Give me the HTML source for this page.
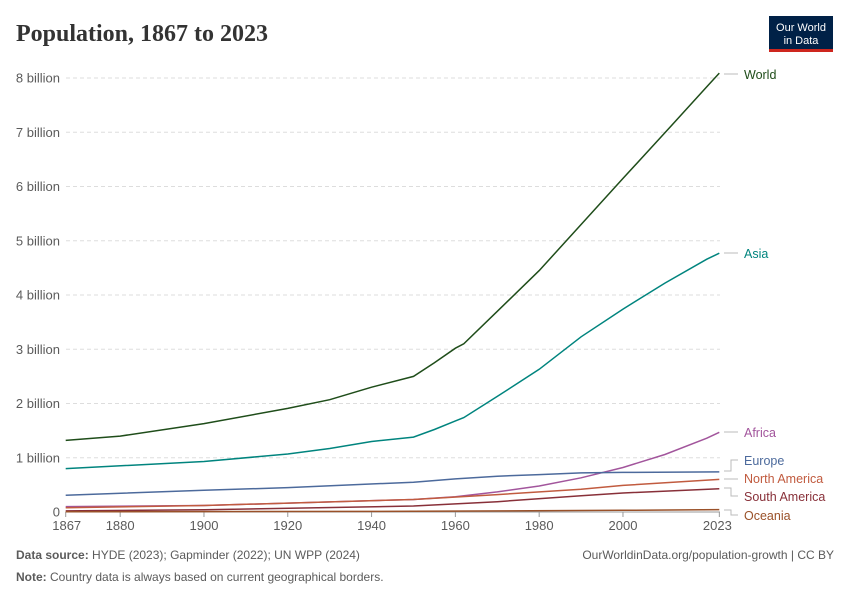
<!DOCTYPE html>
<html><head><meta charset="utf-8"><style>
body{margin:0;background:#fff;width:850px;height:600px;overflow:hidden}
svg text{font-family:"Liberation Sans",sans-serif}
</style></head><body>
<svg id="s" width="850" height="600" xmlns="http://www.w3.org/2000/svg">
<text x="16" y="41" font-size="24" font-weight="bold" fill="#333" style="font-family:'Liberation Serif',serif">Population, 1867 to 2023</text>
<rect x="769" y="16" width="64" height="33" fill="#002147"/>
<rect x="769" y="49" width="64" height="3" fill="#ce261e"/>
<text x="801" y="31" font-size="11" fill="#fff" text-anchor="middle">Our World</text>
<text x="801" y="44" font-size="11" fill="#fff" text-anchor="middle">in Data</text>
<g id="grid"></g>
<g id="lines" fill="none" stroke-width="1.5"></g>
<g font-size="12.5">
<text x="744" y="79" fill="#1f4d1a">World</text>
<text x="744" y="258" fill="#00847e">Asia</text>
<text x="744" y="437" fill="#a2559c">Africa</text>
<text x="744" y="465" fill="#4c6a9c">Europe</text>
<text x="744" y="483" fill="#c15b3f">North America</text>
<text x="744" y="501" fill="#883039">South America</text>
<text x="744" y="520" fill="#9a5129">Oceania</text>
</g>
<g stroke="#bbb" fill="none" stroke-width="1">
<path d="M724 74 H738"/><path d="M724 253 H738"/><path d="M724 432 H738"/>
<path d="M724 471 H731 V460 H738"/><path d="M724 479 H738"/><path d="M724 488 H731 V496 H738"/><path d="M724 510 H731 V515 H738"/>
</g>
<text x="16" y="559" font-size="12" fill="#5b5b5b"><tspan font-weight="bold">Data source:</tspan> HYDE (2023); Gapminder (2022); UN WPP (2024)</text>
<text x="834" y="559" font-size="12" fill="#5b5b5b" text-anchor="end">OurWorldinData.org/population-growth | CC BY</text>
<text x="16" y="581" font-size="12" fill="#5b5b5b"><tspan font-weight="bold">Note:</tspan> Country data is always based on current geographical borders.</text>
</svg>
<script>
const X=y=>65.7+(y-1867)*4.19, Y=b=>512-b*54.25, ns="http://www.w3.org/2000/svg";
const g=document.getElementById('grid');
function el(p,t,a,txt){const e=document.createElementNS(ns,t);for(const k in a)e.setAttribute(k,a[k]);if(txt)e.textContent=txt;p.appendChild(e);return e;}
for(let i=0;i<=8;i++){const y=Y(i);
 if(i>0)el(g,'line',{x1:66,x2:720,y1:y,y2:y,stroke:'#ddd','stroke-dasharray':'4,3'});
 el(g,'text',{x:60,y:y+4.5,'font-size':'13','fill':'#5b5b5b','text-anchor':'end'},i?i+' billion':'0');}
el(g,'line',{x1:66,x2:720,y1:512,y2:512,stroke:'#999'});
[1867,1880,1900,1920,1940,1960,1980,2000,2023].forEach(yr=>{el(g,'line',{x1:X(yr),x2:X(yr),y1:512,y2:517,stroke:'#999'});
 el(g,'text',{x:X(yr)+(yr==1867?1:yr==2023?-2:0),y:530,'font-size':'13',fill:'#5b5b5b','text-anchor':'middle'},yr);});
const D={
'#1f4d1a':[1867,1.32,1880,1.40,1900,1.63,1920,1.91,1930,2.07,1940,2.30,1950,2.50,1955,2.75,1960,3.02,1962,3.1,1970,3.7,1980,4.45,1990,5.3,2000,6.15,2010,6.99,2020,7.84,2023,8.09],
'#00847e':[1867,0.8,1900,0.93,1920,1.07,1930,1.17,1940,1.30,1950,1.38,1955,1.52,1960,1.68,1962,1.74,1970,2.13,1980,2.63,1990,3.23,2000,3.74,2010,4.22,2020,4.66,2023,4.77],
'#a2559c':[1867,0.1,1900,0.12,1950,0.23,1960,0.28,1970,0.37,1980,0.48,1990,0.63,2000,0.82,2010,1.06,2020,1.36,2023,1.47],
'#4c6a9c':[1867,0.31,1900,0.40,1920,0.45,1950,0.55,1960,0.61,1970,0.66,1980,0.69,1990,0.72,2000,0.73,2023,0.74],
'#c15b3f':[1867,0.08,1900,0.12,1950,0.23,1970,0.32,1990,0.42,2000,0.49,2023,0.60],
'#883039':[1867,0.02,1900,0.04,1950,0.11,1970,0.19,1990,0.3,2000,0.35,2023,0.43],
'#9a5129':[1867,0.003,1950,0.013,2000,0.031,2023,0.045]};
const L=document.getElementById('lines');
for(const c in D){const a=D[c];let d='';for(let i=0;i<a.length;i+=2)d+=(i?'L':'M')+X(a[i]).toFixed(1)+' '+Y(a[i+1]).toFixed(1);el(L,'path',{d:d,stroke:c});}
</script>
</body></html>
